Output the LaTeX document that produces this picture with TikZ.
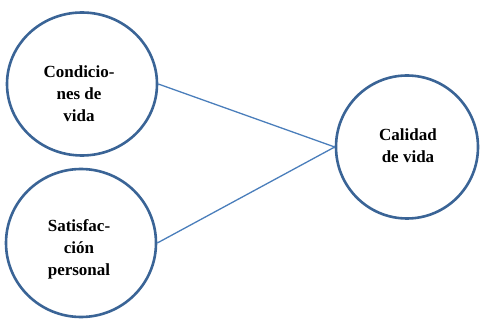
\documentclass[tikz,border=0pt]{standalone}
\usepackage{fontspec}
\setmainfont{Liberation Serif}
\usetikzlibrary{shapes.geometric}
\definecolor{ring}{HTML}{3A6496}
\definecolor{link}{HTML}{4A7EBB}
\tikzset{
  ringnode/.style={draw=ring, line width=2.6pt, ellipse, inner sep=0pt, fill=white},
  lbl/.style={align=center, font=\bfseries\fontsize{17}{22}\selectfont, inner sep=0pt},
  linkline/.style={draw=link, line width=1.3pt}
}
\begin{document}
\begin{tikzpicture}[x=1pt,y=-1pt]
\useasboundingbox (0,0) rectangle (481,320);
\node[ringnode, minimum width=150pt, minimum height=143pt] (c1) at (82,84) {};
\node[ringnode, minimum width=150pt, minimum height=148pt] (c2) at (81,243) {};
\node[ringnode, minimum width=142pt, minimum height=143pt] (c3) at (407,147) {};
\draw[linkline] (c1.east) -- (c3.west);
\draw[linkline] (c2.east) -- (c3.west);
\node[lbl] (t1) at (79,94) {Condicio-\\nes de\\vida};
\node[lbl] (t2) at (79,249) {Satisfac-\\ción\\personal};
\node[lbl] (t3) at (408,146) {Calidad\\de vida};
\end{tikzpicture}
\end{document}
